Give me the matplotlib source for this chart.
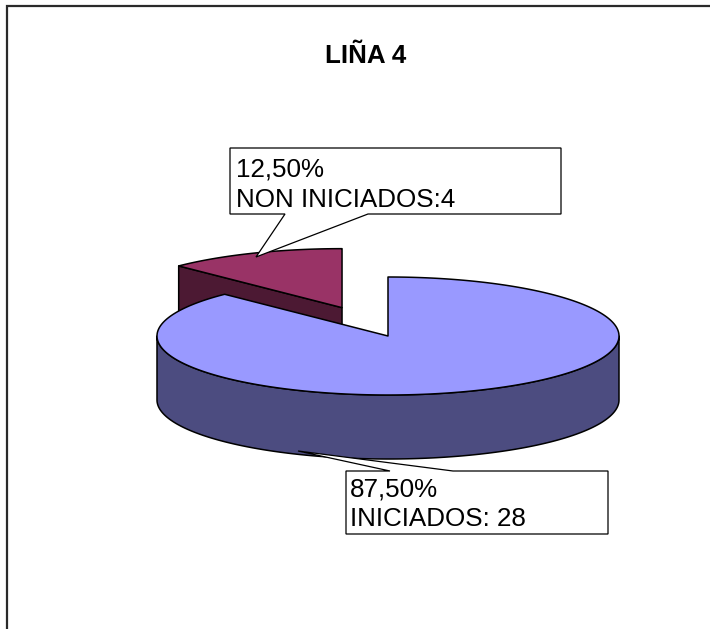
import numpy as np
import matplotlib
matplotlib.use("Agg")
import matplotlib.pyplot as plt
from matplotlib.patches import Polygon

# ---- data ----
title = "LIÑA 4"
categories = ["INICIADOS", "NON INICIADOS"]
values = [28, 4]
label_seps = [": ", ":"]
top_colors = ["#9999FF", "#993366"]
side_colors = ["#4C4C80", "#4C1933"]
explode = [0.0, 0.52]

plt.rcParams['font.family'] = ['Liberation Sans', 'DejaVu Sans']

W, H = 710, 629
fig = plt.figure(figsize=(W / 100, H / 100), dpi=100)
ax = fig.add_axes([0, 0, 1, 1])
ax.set_xlim(0, W)
ax.set_ylim(H, 0)
ax.axis('off')

# frame (top and left visible)
ax.plot([7, 7, W + 5], [H + 5, 5.5, 5.5], color="#2a2a2a", lw=1.6,
        solid_joinstyle='miter')

# ---- 3D pie geometry ----
CX, CY = 388.0, 336.0
RA, RB = 231.0, 59.0
DEPTH = 64.0
FS = 18.7


def pt(c, t, dz=0.0):
    r = np.deg2rad(t)
    return np.column_stack([c[0] + RA * np.cos(r), c[1] - RB * np.sin(r) + dz])


total = float(sum(values))
slices = []
start = 90.0
cum = 0.0
for i, v in enumerate(values):
    a0 = start - cum / total * 360.0
    a1 = a0 - v / total * 360.0
    cum += v
    ts, te = a1, a0
    mid = np.deg2rad((ts + te) / 2)
    c = (CX + explode[i] * RA * np.cos(mid), CY - explode[i] * RB * np.sin(mid))
    slices.append(dict(i=i, ts=ts, te=te, c=c))

# back to front
for s in sorted(slices, key=lambda s: s['c'][1]):
    i, ts, te, c = s['i'], s['ts'], s['te'], s['c']
    kw = dict(closed=True, lw=1.1, edgecolor='black', joinstyle='round')
    # radial faces
    for t, sign in ((ts, 1), (te, -1)):
        if sign * np.cos(np.deg2rad(t)) > 1e-6:
            p = pt(c, np.array([t]))[0]
            poly = [c, p, (p[0], p[1] + DEPTH), (c[0], c[1] + DEPTH)]
            ax.add_patch(Polygon(poly, facecolor=side_colors[i], **kw))
    # outer wall (front part)
    for k in range(-2, 3):
        lo = max(ts, 180 + 360 * k)
        hi = min(te, 360 + 360 * k)
        if hi > lo:
            tt = np.linspace(lo, hi, 200)
            top = pt(c, tt)
            bot = pt(c, tt[::-1], DEPTH)
            ax.add_patch(Polygon(np.vstack([top, bot]),
                                 facecolor=side_colors[i], **kw))
    # top face
    tt = np.linspace(ts, te, 400)
    arc = pt(c, tt)
    ax.add_patch(Polygon(np.vstack([[c], arc]),
                         facecolor=top_colors[i], **kw))

# ---- title ----
ax.text(365.5, 63, title, fontsize=FS, fontweight='bold',
        ha='center', va='baseline')

# ---- callout labels ----
pcts = [v / total * 100 for v in values]
label_lines = [[f"{p:.2f}%".replace('.', ','), f"{n}{sep}{v}"]
               for p, n, sep, v in zip(pcts, categories, label_seps, values)]

# label for NON INICIADOS (index 1)
box1 = [(230, 148), (561, 148), (561, 214), (368, 214), (256, 257),
        (285, 214), (230, 214)]
ax.add_patch(Polygon(box1, closed=True, facecolor='white', edgecolor='black',
                     lw=0.9, joinstyle='miter'))
ax.text(236, 177, label_lines[1][0], fontsize=FS, va='baseline')
ax.text(236, 207, label_lines[1][1], fontsize=FS, va='baseline')

# label for INICIADOS (index 0)
box0 = [(346, 471), (390, 471), (298, 451), (453, 471), (608, 471),
        (608, 534), (346, 534)]
ax.add_patch(Polygon(box0, closed=True, facecolor='white', edgecolor='black',
                     lw=0.9, joinstyle='miter'))
ax.text(350, 496, label_lines[0][0], fontsize=FS, va='baseline')
ax.text(350, 526, label_lines[0][1], fontsize=FS, va='baseline')

fig.savefig("out.png", dpi=100)
